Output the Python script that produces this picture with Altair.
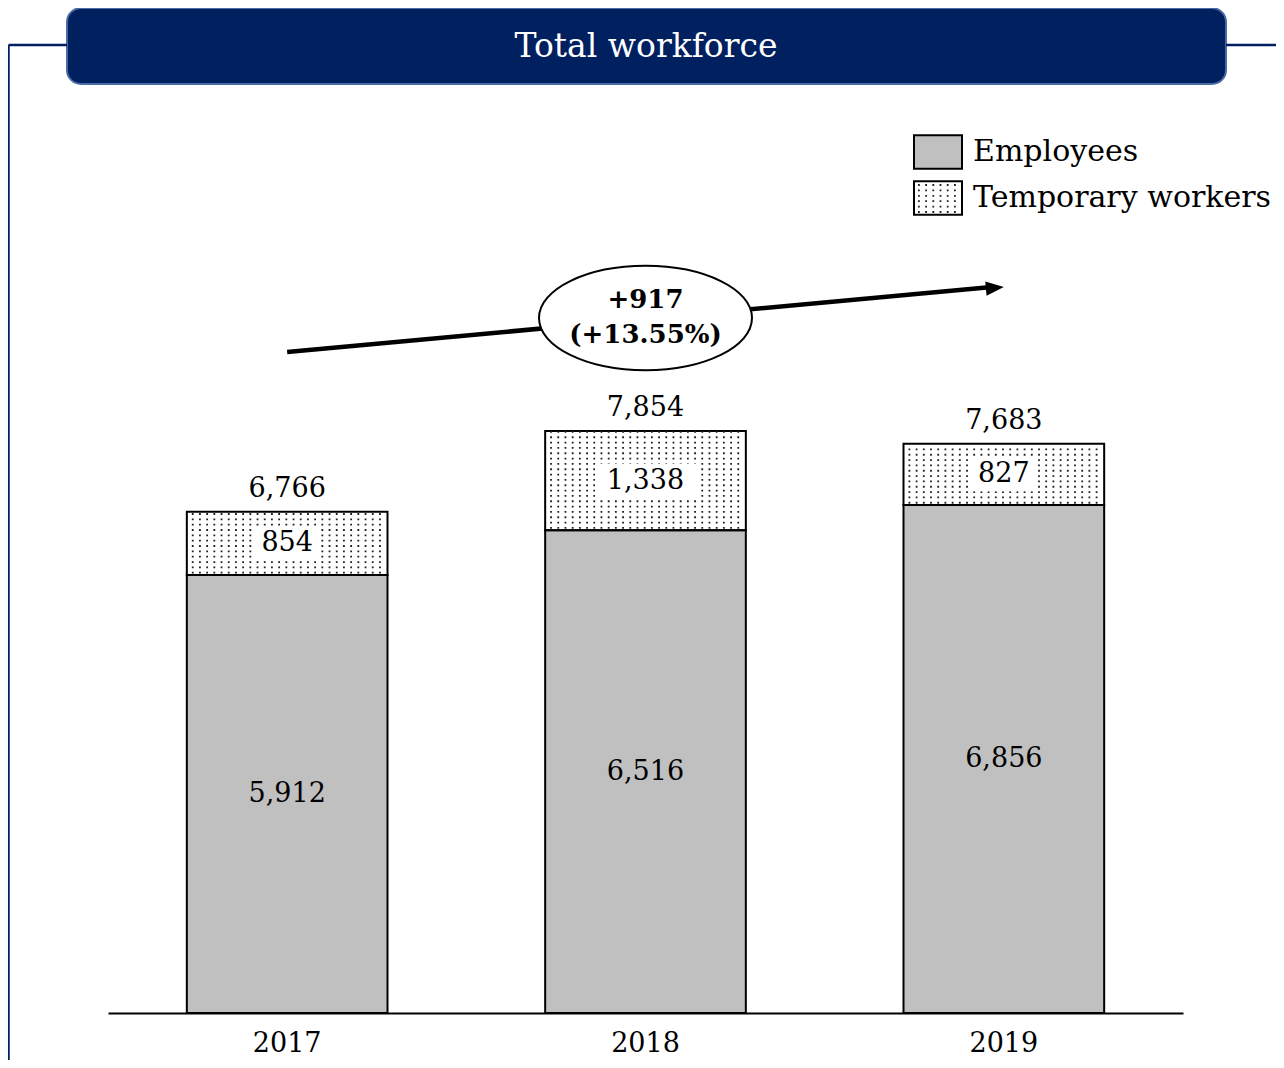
import altair as alt
import pandas as pd

# ---- data ----
years = ["2017", "2018", "2019"]
employees = [5912, 6516, 6856]
temporary = [854, 1338, 827]
series_names = ["Employees", "Temporary workers"]
chart_title = "Total workforce"

totals = [e + t for e, t in zip(employees, temporary)]
rows = []
for yr, e, t in zip(years, employees, temporary):
    rows.append({"year": yr, "series": series_names[0], "start": 0, "end": e, "value": e})
    rows.append({"year": yr, "series": series_names[1], "start": e, "end": e + t, "value": t})
df = pd.DataFrame(rows)
df["mid"] = (df["start"] + df["end"]) / 2
df["label"] = df["value"].map("{:,}".format)
temp_df = df[df["series"] == series_names[1]].copy()
tot_df = pd.DataFrame({"year": years, "total": totals, "label": [f"{v:,}" for v in totals]})
change = totals[-1] - totals[0]
pct = change / totals[0] * 100
ann_df = pd.DataFrame({"from": [years[0]], "to": [years[-1]], "mid": [years[1]],
                       "l1": [f"+{change:,}"], "l2": [f"(+{pct:.2f}%)"]})

# ---- styling ----
FONT = "DejaVu Serif"
NAVY = "#002060"
DOT_DASH = [1.8, 5.4]
xs = alt.Scale(domain=years, paddingInner=0.44, paddingOuter=0.22)
ys = alt.Scale(domain=[0, 10000], nice=False, zero=True)
xaxis = alt.Axis(title=None, labelAngle=0, ticks=False, grid=False, domainColor="black",
                 domainWidth=2, labelFont=FONT, labelFontSize=27, labelColor="black",
                 labelPadding=17)
deco = alt.Data(values=[{"k": 1}])


def X(field, **kw):
    return alt.X(field, type="nominal", scale=xs, axis=xaxis, **kw)


def Y(field):
    return alt.Y(field, type="quantitative", scale=ys, axis=None)


# frame + banner
banner = alt.Chart(deco).mark_rect(fill=NAVY, stroke="#4a6aa5", strokeWidth=2, cornerRadius=14).encode(
    x=alt.value(-41), x2=alt.value(1118), y=alt.value(-264), y2=alt.value(-188))
frame_v = alt.Chart(deco).mark_rule(color=NAVY, strokeWidth=2.5).encode(
    x=alt.value(-99.5), y=alt.value(-227), y2=alt.value(790))
frame_l = alt.Chart(deco).mark_rule(color=NAVY, strokeWidth=2.5).encode(
    x=alt.value(-99.5), x2=alt.value(-41), y=alt.value(-227))
frame_r = alt.Chart(deco).mark_rule(color=NAVY, strokeWidth=2.5).encode(
    x=alt.value(1118), x2=alt.value(1170), y=alt.value(-227))
title_txt = alt.Chart(deco).mark_text(font=FONT, fontSize=33, color="white", baseline="middle").encode(
    x=alt.value(538), y=alt.value(-225), text=alt.value(chart_title))

# bars (temporary segments transparent: the white page shows through, dots drawn on top)
bars = alt.Chart(df).mark_bar(stroke="black", strokeWidth=2, opacity=1).encode(
    x=X("year"),
    y=Y("start"),
    y2="end:Q",
    fill=alt.Fill("series:N",
                  scale=alt.Scale(domain=series_names, range=["#c0c0c0", "transparent"]),
                  legend=alt.Legend(title=None, orient="none", legendX=805, legendY=-145,
                                    symbolType="M-1,-0.7H1V0.7H-1Z", symbolSize=2304,
                                    symbolStrokeColor="black", symbolStrokeWidth=2,
                                    symbolOpacity=1, labelFont=FONT, labelFontSize=30,
                                    labelColor="black", labelOffset=10, rowPadding=0,
                                    padding=0, labelLimit=0)),
)


# dotted texture on temporary workers segments
dots = alt.Chart(temp_df).transform_calculate(
    dots="sequence(datum.start + 30, datum.end - 10, 72)"
).transform_flatten(["dots"]).mark_rule(
    color="#222222", strokeWidth=1.8, strokeDash=DOT_DASH, strokeDashOffset=-3,
    xOffset=2, x2Offset=-2, strokeCap="butt"
).encode(
    x=X("year", bandPosition=0),
    x2=alt.X2("year", bandPosition=1),
    y=Y("dots"),
)

# dotted texture on the legend swatch of temporary workers
legend_dots = [
    alt.Chart(deco).mark_rule(color="#222222", strokeWidth=1.8, strokeDash=DOT_DASH,
                              strokeDashOffset=-3, strokeCap="butt").encode(
        x=alt.value(807), x2=alt.value(853), y=alt.value(-87 + 5.4 * i))
    for i in range(6)
]

# white boxes behind temp labels
boxes = alt.Chart(temp_df).transform_calculate(
    boxw="length(datum.label) * 17 + 16"
).mark_tick(orient="horizontal", color="white", thickness=34, opacity=1).encode(
    x=X("year"), y=Y("mid"), size=alt.Size("boxw:Q", scale=None, legend=None))

inner = alt.Chart(df).mark_text(font=FONT, fontSize=27, color="black", baseline="middle").encode(
    x=X("year"), y=Y("mid"), text="label:N")

tot_text = alt.Chart(tot_df).mark_text(font=FONT, fontSize=27, color="black",
                                       baseline="alphabetic", dy=-15).encode(
    x=X("year"), y=Y("total"), text="label:N")

# growth arrow + ellipse
arrow = alt.Chart(ann_df).mark_rule(color="black", strokeWidth=4.5, x2Offset=-12).encode(
    x=X("from", bandPosition=0.5), x2=alt.X2("to", bandPosition=0.5),
    y=alt.value(80), y2=alt.value(15))
head = alt.Chart(ann_df).mark_point(shape="M0,0L-1,-0.4L-1,0.4Z", size=1296, filled=True,
                                    color="black", opacity=1, angle=354.8).encode(
    x=X("to"), y=alt.value(15))
ellipse = alt.Chart(ann_df).mark_point(shape="M-1,0A1,0.49 0 1,1 1,0A1,0.49 0 1,1 -1,0Z",
                                       size=45369, filled=True, fill="white", stroke="black",
                                       strokeWidth=2, opacity=1).encode(
    x=X("mid"), y=alt.value(46))
ell_t1 = alt.Chart(ann_df).mark_text(font=FONT, fontSize=26, fontWeight="bold", color="black",
                                     baseline="middle").encode(
    x=X("mid"), y=alt.value(28), text="l1:N")
ell_t2 = alt.Chart(ann_df).mark_text(font=FONT, fontSize=26, fontWeight="bold", color="black",
                                     baseline="middle").encode(
    x=X("mid"), y=alt.value(63), text="l2:N")

chart = alt.layer(
    banner, frame_v, frame_l, frame_r, title_txt,
    bars, dots, *legend_dots, boxes, inner, tot_text,
    arrow, head, ellipse, ell_t1, ell_t2,
).properties(
    width=1075, height=741,
    autosize=alt.AutoSizeParams(type="none"),
    padding={"left": 100, "top": 264, "right": 93, "bottom": 47},
    background="white",
).configure_view(stroke=None)

chart.save("out.html", embed_options={"renderer": "svg", "actions": False})
